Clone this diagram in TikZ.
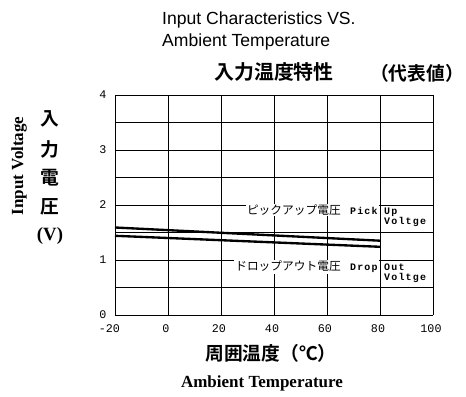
\documentclass[tikz,border=0pt]{standalone}
\usepackage{fontspec}
\setmainfont{Liberation Serif}
\newfontfamily\sansfont{Liberation Sans}
\newfontfamily\monofont{Liberation Mono}
\newfontfamily\notefont{Liberation Mono}[LetterSpace=12]
\newfontfamily\jpfont{Noto Sans CJK JP}[BoldFont=Noto Sans CJK JP Bold]
\tikzset{
  grid line/.style={black, line width=0.6pt},
  curve line/.style={black, line width=2pt},
  tick label/.style={inner sep=0pt, font=\monofont\fontsize{10}{10}\selectfont},
  note label/.style={fill=white, inner sep=1pt, font=\jpfont\fontsize{10}{10}\selectfont},
  note small/.style={inner sep=0pt, align=left, font=\notefont\bfseries\fontsize{8.5}{8.5}\selectfont},
  jp title/.style={inner sep=0pt, font=\jpfont\bfseries\fontsize{17}{17}\selectfont},
  jp axis/.style={inner sep=0pt, font=\jpfont\bfseries\fontsize{16}{16}\selectfont},
  en axis/.style={inner sep=0pt, font=\bfseries\fontsize{14.5}{14.5}\selectfont}
}
\newcommand{\notetag}[1]{{\notefont\bfseries\fontsize{8.5}{8.5}\selectfont #1}}
\begin{document}
\begin{tikzpicture}[x=0.03cm, y=-0.03cm]
\useasboundingbox (0,0) rectangle (466,397);
\foreach \i in {0,...,6} \draw[grid line] ({115+53*\i},95) -- ({115+53*\i},315);
\foreach \j in {0,...,8} \draw[grid line] (115,{95+27.5*\j}) -- (433,{95+27.5*\j});
\foreach \v [count=\i from 0] in {{\llap{-}20},0,20,40,60,80,100}
  \node[tick label] (xt\i) at ({113+53*\i},329) {\v};
\foreach \v in {0,...,4}
  \node[tick label] (yt\v) at (103,{315-55*\v}) {\v};
\draw[curve line] (115,227.5) -- (380,240.7);
\draw[curve line] (115,235.8) -- (380,246.8);
\node[note label, anchor=east] (pickjp) at (379,210) {ピックアップ電圧\hspace{8pt}\notetag{Pick}};
\node[note small, anchor=west] (pickup) at (384,217) {Up\\Voltge};
\node[note label, anchor=east] (dropjp) at (379,267) {ドロップアウト電圧\hspace{8pt}\notetag{Drop}};
\node[note small, anchor=west] (dropout) at (384,273) {Out\\Voltge};
\node[anchor=west, inner sep=0pt, font=\sansfont\fontsize{15}{15}\selectfont] (title) at (162,20) {Input Characteristics VS.};
\node[anchor=west, inner sep=0pt, font=\sansfont\fontsize{15}{15}\selectfont] (subtitle) at (162,42) {Ambient Temperature};
\node[jp title] (jptitle) at (274,72) {入力温度特性};
\node[jp title, font=\jpfont\bfseries\fontsize{16}{16}\selectfont] (typical) at (417,73) {（代表値）};
\node[en axis, rotate=90] (ylabel) at (19,166) {Input Voltage};
\node[jp axis] (y1) at (50,119) {入};
\node[jp axis] (y2) at (50,149) {力};
\node[jp axis] (y3) at (50,178) {電};
\node[jp axis] (y4) at (50,207) {圧};
\node[en axis, font=\bfseries\fontsize{16}{16}\selectfont] (y5) at (50,236) {(V)};
\node[jp axis] (xlabel) at (271,353) {周囲温度（℃）};
\node[en axis] (xlabel2) at (262,383) {Ambient Temperature};
\end{tikzpicture}
\end{document}
